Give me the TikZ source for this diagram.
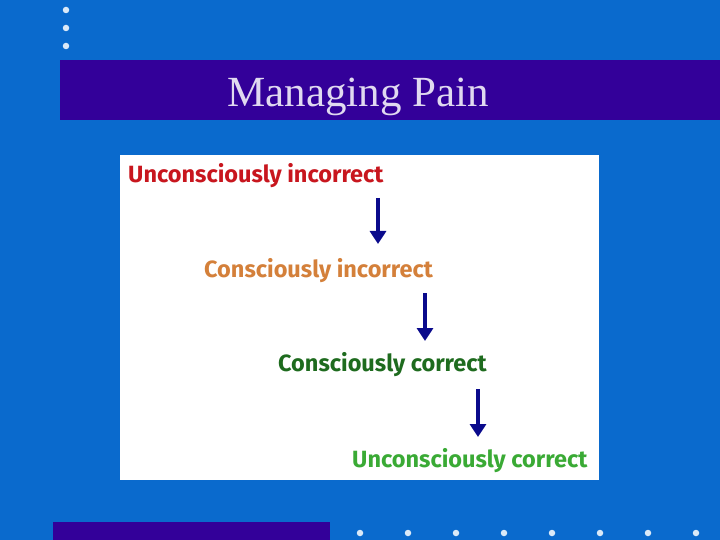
\documentclass[tikz,border=0pt]{standalone}
\usepackage{fontspec}
\setmainfont{Liberation Serif}
\newfontfamily\lblfont{Fira Sans}
\usetikzlibrary{arrows.meta}
\definecolor{bg}{HTML}{0A6ACD}
\definecolor{bar}{HTML}{330099}
\definecolor{navy}{HTML}{0A0A8C}
\definecolor{cred}{HTML}{C8161E}
\definecolor{corange}{HTML}{D4803A}
\definecolor{cdgreen}{HTML}{1E6B1E}
\definecolor{cgreen}{HTML}{3AAA35}
\tikzset{
 lbl/.style={font=\lblfont\bfseries\fontsize{23.5}{27}\selectfont, inner sep=0pt, anchor=west},
 arr/.style={navy, line width=4.5pt, -{Triangle[length=13pt,width=16pt]}},
 dot/.style={circle, fill=white!85!bg, inner sep=0pt, minimum size=6.5pt}
}
\begin{document}
\begin{tikzpicture}[x=1pt,y=-1pt]
\fill[bg] (0,0) rectangle (720,540);
\useasboundingbox (0,0) rectangle (720,540);
\fill[bar] (60,60) rectangle (720,120);
\fill[bar] (53,522) rectangle (330,540);
\foreach \y [count=\i] in {10,28,46} \node[dot] (d\i) at (66,\y) {};
\foreach \x [count=\i] in {360,408,456,504,552,600,648,696} \node[dot] (b\i) at (\x,533) {};
\node[font=\fontsize{43}{48}\selectfont, text=white!85!bar, anchor=west, inner sep=0pt] (title) at (227,97) {Managing Pain};
\fill[white] (120,155) rectangle (599,480);
\node[lbl, text=cred] (t1) at (128,176) {Unconsciously incorrect};
\node[lbl, text=corange] (t2) at (204,271) {Consciously incorrect};
\node[lbl, text=cdgreen] (t3) at (278,365) {Consciously correct};
\node[lbl, text=cgreen] (t4) at (352,461) {Unconsciously correct};
\coordinate (a1) at (378,198); \coordinate (e1) at (378,244);
\coordinate (a2) at (425,293); \coordinate (e2) at (425,341);
\coordinate (a3) at (478,389); \coordinate (e3) at (478,437);
\draw[arr] (a1) -- (e1);
\draw[arr] (a2) -- (e2);
\draw[arr] (a3) -- (e3);
\end{tikzpicture}
\end{document}
